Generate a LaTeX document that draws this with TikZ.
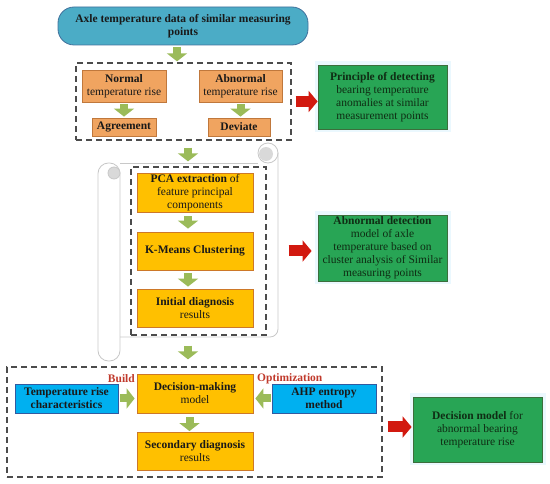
\documentclass[tikz,border=0pt]{standalone}
\usepackage{fontspec}
\setmainfont{Liberation Serif}
\usetikzlibrary{arrows.meta, positioning, calc}
\definecolor{topfill}{RGB}{75,172,198}
\definecolor{topline}{RGB}{65,113,156}
\definecolor{orgfill}{RGB}{240,164,96}
\definecolor{orgline}{RGB}{192,120,60}
\definecolor{gldfill}{RGB}{255,192,0}
\definecolor{gldline}{RGB}{205,120,40}
\definecolor{blufill}{RGB}{0,176,240}
\definecolor{bluline}{RGB}{50,90,160}
\definecolor{grnfill}{RGB}{40,165,85}
\definecolor{grnline}{RGB}{60,110,60}
\definecolor{grntext}{RGB}{15,45,20}
\definecolor{olv}{RGB}{155,187,89}
\definecolor{redarr}{RGB}{210,25,15}
\definecolor{lblred}{RGB}{192,57,43}
\definecolor{scrl}{RGB}{200,200,200}

\begin{document}
\begin{tikzpicture}[
        x=1pt, y=-1pt,
        font=\fontsize{11.5}{13}\selectfont,
        % boxes
        box/.style  ={draw, line width=0.8pt, align=center, inner sep=1pt, text=black!90},
        topb/.style ={box, fill=topfill, draw=topline, rounded corners=16pt},
        orgb/.style ={box, fill=orgfill, draw=orgline},
        gldb/.style ={box, fill=gldfill, draw=gldline, minimum width=116pt},
        blub/.style ={box, fill=blufill, draw=bluline},
        grnb/.style ={box, fill=grnfill, draw=grnline, text=grntext,
                      minimum width=129pt, preaction={draw=cyan!8, line width=7pt}},
        grp/.style  ={draw=black!70, line width=1.3pt, dash pattern=on 6pt off 4pt},
        scroll/.style={draw=scrl, line width=0.8pt},
        lbl/.style  ={font=\fontsize{11.5}{13}\selectfont\bfseries, text=lblred, inner sep=0pt},
        % connectors
        garrow/.style={draw=olv, line width=8pt, -{Triangle[length=8pt,width=20pt]}},
        rarrow/.style={draw=redarr, line width=11pt, -{Triangle[length=9pt,width=21pt]}}
    ]
    \useasboundingbox (0,0) rectangle (550,484);

    %% ===== Stage 1: similar measuring points =====
    \node[topb, minimum width=250pt, minimum height=38pt] (top) at (183,26)
        {\textbf{Axle temperature data of similar measuring}\\\textbf{points}};
    \node[grp, minimum width=215pt, minimum height=77pt] (grp1) at (183.5,101.5) {};
    \node[orgb, minimum width=84pt, minimum height=32pt] (normal) at (124,86)
        {\textbf{Normal}\\temperature rise};
    \node[orgb, minimum width=83pt, minimum height=32pt] (abnormal) at (240.5,86)
        {\textbf{Abnormal}\\temperature rise};
    \node[orgb, minimum width=64pt, minimum height=18pt] (agree) at (124,127) {\textbf{Agreement}};
    \node[orgb, minimum width=62pt, minimum height=18pt] (deviate) at (239,127) {\textbf{Deviate}};
    \node[grnb, minimum height=64pt] (green1) at (382.5,97)
        {\textbf{Principle of detecting}\\bearing temperature\\anomalies at similar\\measurement points};

    \draw[garrow, shorten <=2pt, shorten >=1pt] ([xshift=-6pt]top.south) -- ([xshift=-6pt]top.south |- grp1.north);
    \draw[garrow, shorten <=2pt, shorten >=1pt] (normal) -- (agree);
    \draw[garrow, shorten <=2pt, shorten >=1pt] (abnormal.south) -- (abnormal.south |- deviate.north);
    \draw[rarrow, shorten <=4pt] (grp1.east) -- (grp1.east -| green1.west);

    %% ===== Stage 2: clustering (on the scroll) =====
    \draw[scroll, rounded corners=10.5pt] (98,163) rectangle (120,361);
    \draw[scroll] (120,163) -- (258,163);
    \draw[scroll, rounded corners=8pt] (278,153) -- (278,337) -- (120,337);
    \draw[scroll] (268,153) circle (10pt);
    \fill[black!15] (266,154) circle (7pt);
    \draw[scroll, fill=black!15] (114,173) circle (6pt);

    \node[grp, minimum width=135pt, minimum height=168pt] (grp2) at (198.5,251) {};
    \node[gldb, minimum height=39pt] (pca) at (195,192.5)
        {\textbf{PCA extraction} of\\feature principal\\components};
    \node[gldb, minimum height=38pt] (kmeans) at (195,251) {\textbf{K-Means Clustering}};
    \node[gldb, minimum height=38pt] (initial) at (195,308) {\textbf{Initial diagnosis}\\results};
    \node[grnb, minimum height=66pt] (green2) at (382.5,248)
        {\textbf{Abnormal detection}\\model of axle\\temperature based on\\cluster analysis of Similar\\measuring points};

    \draw[garrow, shorten <=7pt, shorten >=5pt] ([xshift=4.5pt]grp1.south) -- ([xshift=4.5pt]grp1.south |- grp2.north);
    \draw[garrow, shorten <=4pt, shorten >=3pt] ([xshift=-7pt]pca.south) -- ([xshift=-7pt]kmeans.north);
    \draw[garrow, shorten <=3pt, shorten >=2pt] ([xshift=-7pt]kmeans.south) -- ([xshift=-7pt]initial.north);
    \draw[rarrow, shorten <=22pt, shorten >=6pt] (grp2.east) -- (grp2.east -| green2.west);

    %% ===== Stage 3: decision model =====
    \node[grp, minimum width=375pt, minimum height=110pt] (grp3) at (194.5,422) {};
    \node[blub, minimum width=103pt, minimum height=29pt] (temp) at (66.5,398.5)
        {\textbf{Temperature rise}\\\textbf{characteristics}};
    \node[gldb, minimum height=39pt] (decision) at (195,393.5) {\textbf{Decision-making}\\model};
    \node[blub, minimum width=104pt, minimum height=29pt] (ahp) at (324,398.5)
        {\textbf{AHP entropy}\\\textbf{method}};
    \node[gldb, minimum height=38pt] (secondary) at (195,451) {\textbf{Secondary diagnosis}\\results};
    \node[lbl, anchor=east] (build) at (135,379) {Build};
    \node[lbl, anchor=west] (optim) at (257,379) {Optimization};
    \node[grnb, minimum height=65pt] (green3) at (477.5,429.5)
        {\textbf{Decision model} for\\abnormal bearing\\temperature rise};

    \draw[garrow, shorten <=10pt, shorten >=7pt] ([xshift=-10.5pt]grp2.south) -- ([xshift=-10.5pt]grp2.south |- grp3.north);
    \draw[garrow, shorten <=2pt, shorten >=2pt] (temp.east) -- (temp.east -| decision.west);
    \draw[garrow, shorten <=1pt, shorten >=2pt] (ahp.west) -- (ahp.west -| decision.east);
    \draw[garrow, shorten <=4pt, shorten >=0.5pt] ([xshift=-5.5pt]decision.south) -- ([xshift=-5.5pt]secondary.north);
    \draw[rarrow, shorten <=5pt, shorten >=1pt] ([yshift=-5pt]grp3.east) -- ([yshift=-5pt]grp3.east -| green3.west);

\end{tikzpicture}
\end{document}
